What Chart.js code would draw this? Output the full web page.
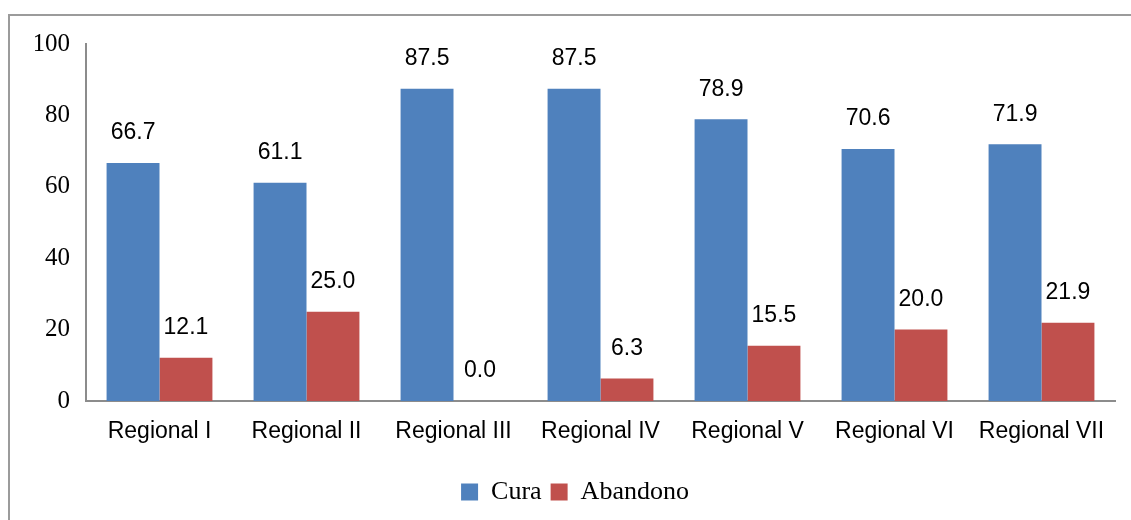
<!DOCTYPE html>
<html>
<head>
<meta charset="utf-8">
<script src="https://cdn.jsdelivr.net/npm/chart.js@4/dist/chart.umd.min.js"></script>
<style>
    html, body { margin: 0; padding: 0; background: #fff; }
    #wrap { position: relative; width: 1131px; height: 520px; overflow: hidden; }
    #frame {
        position: absolute; left: 8px; top: 14px; width: 1200px; height: 600px;
        border-top: 2px solid #9b9b9b; border-left: 2px solid #9b9b9b;
    }
    #ctx { position: absolute; left: 0; top: 0; }
</style>
</head>
<body>
<div id="wrap">
    <div id="frame"></div>
    <canvas id="ctx" width="1131" height="520"></canvas>
</div>
<script>
const categories = ['Regional I', 'Regional II', 'Regional III', 'Regional IV', 'Regional V', 'Regional VI', 'Regional VII'];
const cura = [66.7, 61.1, 87.5, 87.5, 78.9, 70.6, 71.9];
const abandono = [12.1, 25.0, 0.0, 6.3, 15.5, 20.0, 21.9];
const yTicks = [0, 20, 40, 60, 80, 100];

const serif = '"Liberation Serif", "Times New Roman", serif';
const sans = '"Liberation Sans", Arial, sans-serif';

// draws the value above each bar
const valueLabels = {
    id: 'valueLabels',
    afterDatasetsDraw: function (chart) {
        let ctx = chart.ctx;
        ctx.save();
        ctx.font = '23px ' + sans;
        ctx.fillStyle = '#000';
        ctx.textAlign = 'center';
        ctx.textBaseline = 'middle';
        chart.data.datasets.forEach(function (ds, i) {
            chart.getDatasetMeta(i).data.forEach(function (bar, j) {
                ctx.fillText(ds.data[j].toFixed(1), bar.x, bar.y - 30);
            });
        });
        ctx.restore();
    }
};

new Chart(document.getElementById('ctx'), {
    type: 'bar',
    data: {
        labels: categories,
        datasets: [
            { label: 'Cura', data: cura, backgroundColor: '#4f81bd' },
            { label: 'Abandono', data: abandono, backgroundColor: '#c0504d' }
        ]
    },
    options: {
        responsive: false,
        animation: false,
        devicePixelRatio: 1,
        layout: { padding: { left: 35, right: 16, top: 44, bottom: 5 } },
        datasets: { bar: { categoryPercentage: 0.72, barPercentage: 1 } },
        plugins: {
            legend: {
                position: 'bottom',
                labels: {
                    font: { family: serif, size: 26 },
                    color: '#000',
                    boxWidth: 17,
                    boxHeight: 17,
                    padding: 9
                }
            },
            tooltip: { enabled: false }
        },
        scales: {
            x: {
                grid: { display: false, drawTicks: false },
                border: { display: true, color: '#8c8c8c', width: 2 },
                ticks: { font: { family: sans, size: 23 }, color: '#000', padding: 17, maxRotation: 0 },
                afterFit: function (scale) { scale.height = 69; }
            },
            y: {
                min: 0,
                max: 100,
                grid: { display: false, drawTicks: false },
                border: { display: true, color: '#8c8c8c', width: 2 },
                afterBuildTicks: function (scale) {
                    scale.ticks = yTicks.map(v => ({ value: v }));
                },
                ticks: { font: { family: serif, size: 25 }, color: '#000', padding: 16 },
                afterFit: function (scale) { scale.width = 51; }
            }
        }
    },
    plugins: [valueLabels]
});
</script>
</body>
</html>
